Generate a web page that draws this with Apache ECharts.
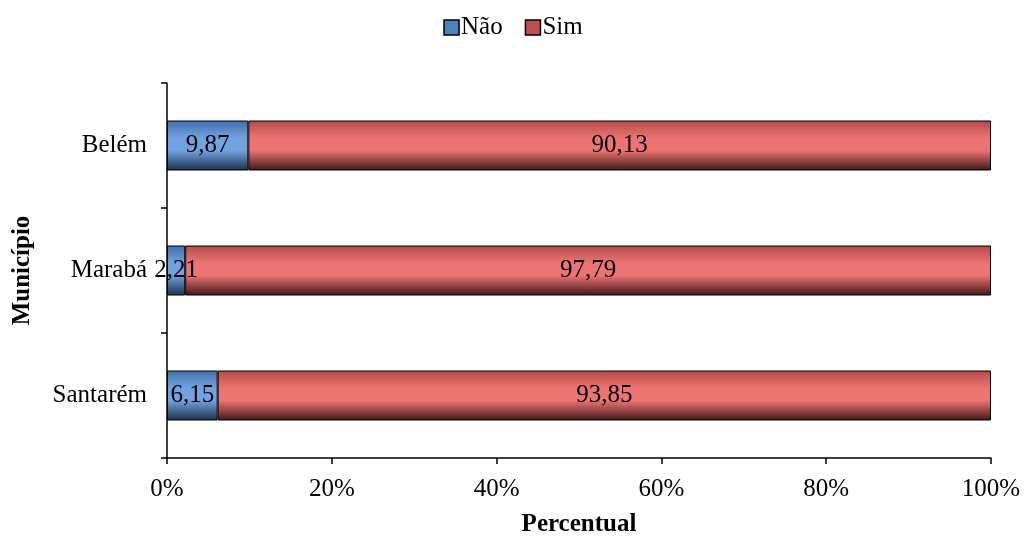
<!DOCTYPE html>
<html>
<head>
<meta charset="utf-8">
<script src="https://cdn.jsdelivr.net/npm/echarts@6/dist/echarts.min.js"></script>
<style>
  html, body { margin: 0; padding: 0; background: #fff; }
  #main { width: 1026px; height: 537px; }
</style>
</head>
<body>
<div id="main"></div>
<script>
// dados
const municipios = ['Santarém', 'Marabá', 'Belém'];
const nao = [6.15, 2.21, 9.87];
const sim = [93.85, 97.79, 90.13];
const xTicks = [0, 20, 40, 60, 80, 100];

const fonte = '"Liberation Serif", "DejaVu Serif", serif';
const tam = 25;

// gradiente vertical para imitar o efeito cilíndrico
function grad(top, mid, bottom) {
  return new echarts.graphic.LinearGradient(0, 0, 0, 1, [
    { offset: 0, color: top },
    { offset: 0.35, color: mid },
    { offset: 0.6, color: mid },
    { offset: 1, color: bottom }
  ]);
}

const chart = echarts.init(document.getElementById('main'));
chart.setOption({
  animation: false,
  textStyle: { fontFamily: fonte, color: '#000' },
  legend: {
    top: 10,
    left: 'center',
    icon: 'rect',
    itemWidth: 15,
    itemHeight: 15,
    itemGap: 22,
    textStyle: { fontFamily: fonte, fontSize: tam, color: '#000', padding: [0, 0, 0, -3] },
    data: [
      { name: 'Não', itemStyle: { color: '#4f81bd', borderColor: '#000', borderWidth: 1.5 } },
      { name: 'Sim', itemStyle: { color: '#c0504d', borderColor: '#000', borderWidth: 1.5 } }
    ]
  },
  grid: { left: 167, right: 35, top: 83, bottom: 79, outerBoundsMode: 'none' },
  xAxis: {
    type: 'value',
    min: 0,
    max: 100,
    interval: 20,
    name: 'Percentual',
    nameLocation: 'middle',
    nameGap: 54,
    nameTextStyle: { fontFamily: fonte, fontSize: tam, fontWeight: 'bold', color: '#000' },
    axisLine: { show: true, lineStyle: { color: '#000', width: 1.5 } },
    axisTick: { show: true, length: 6, lineStyle: { color: '#000', width: 1.5 } },
    axisLabel: {
      fontFamily: fonte, fontSize: tam, color: '#000', margin: 19,
      formatter: v => xTicks.includes(v) ? v + '%' : ''
    },
    splitLine: { show: false }
  },
  yAxis: {
    type: 'category',
    data: municipios,
    name: 'Município',
    nameLocation: 'middle',
    nameGap: 132,
    nameRotate: 90,
    nameTextStyle: { fontFamily: fonte, fontSize: tam, fontWeight: 'bold', color: '#000' },
    axisLine: { show: true, lineStyle: { color: '#000', width: 1.5 } },
    axisTick: { show: true, length: 6, lineStyle: { color: '#000', width: 1.5 } },
    axisLabel: { fontFamily: fonte, fontSize: tam, color: '#000', margin: 20 }
  },
  series: [
    {
      name: 'Não',
      type: 'bar',
      stack: 'total',
      barWidth: '40%',
      data: nao,
      itemStyle: {
        color: grad('#3f6ea8', '#72a2e0', '#1b2f4a'),
        borderColor: '#000',
        borderWidth: 1
      },
      label: {
        show: true,
        position: 'inside',
        fontFamily: fonte,
        fontSize: tam,
        color: '#000',
        formatter: p => String(p.value).replace('.', ',')
      }
    },
    {
      name: 'Sim',
      type: 'bar',
      stack: 'total',
      barWidth: '40%',
      data: sim,
      itemStyle: {
        color: grad('#b24a48', '#ec7472', '#3e1716'),
        borderColor: '#000',
        borderWidth: 1
      },
      label: {
        show: true,
        position: 'inside',
        fontFamily: fonte,
        fontSize: tam,
        color: '#000',
        formatter: p => String(p.value).replace('.', ',')
      }
    }
  ]
});
</script>
</body>
</html>
